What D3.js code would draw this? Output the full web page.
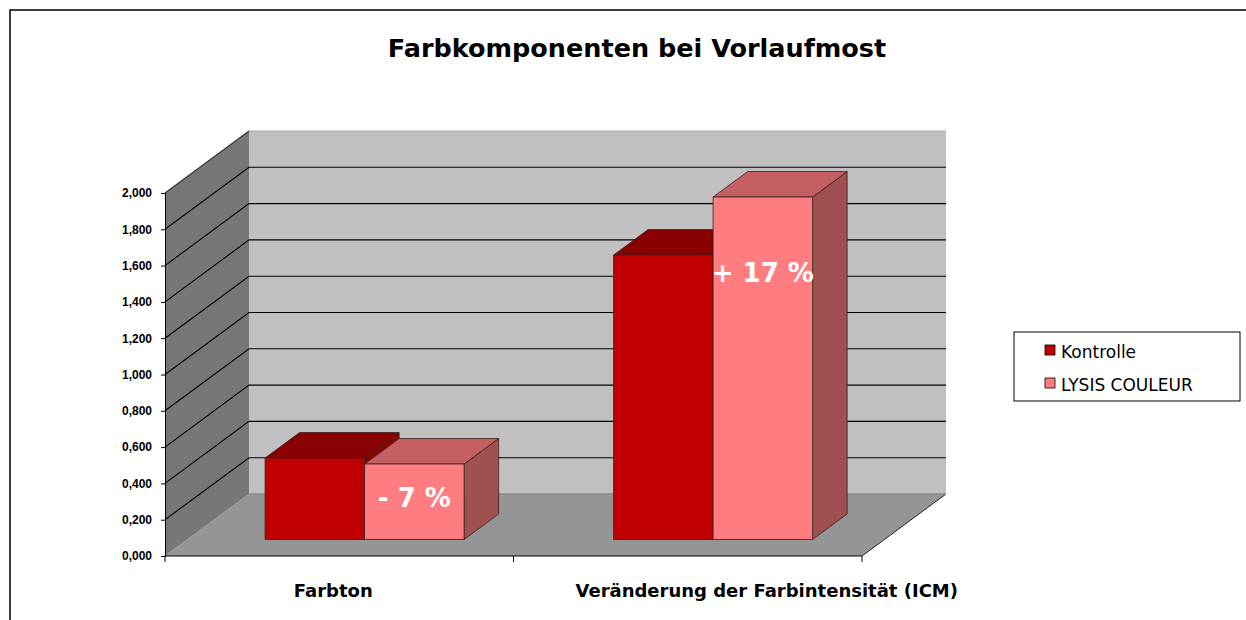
<!DOCTYPE html>
<html>
<head>
<meta charset="utf-8">
<script src="https://cdn.jsdelivr.net/npm/d3@7"></script>
<style>
  body { margin: 0; background: #fff; }
  svg { display: block; font-family: "DejaVu Sans", sans-serif; }
</style>
</head>
<body>
<svg id="chart" width="1246" height="620"></svg>
<script>
// values
var categories = ["Farbton", "Veränderung der Farbintensität (ICM)"];
var series = ["Kontrolle", "LYSIS COULEUR"];
var kontrolle = [0.449, 1.567];
var lysis = [0.416, 1.887];
var changeLabels = ["- 7 %", "+ 17 %"];
var changeAnchor = [0.18, 1.42];

var svg = d3.select('#chart');

var DX = 84, DY = 62;           // depth of the 3d box
var d0 = 0.266, d1 = 0.677;     // bar front / back depth

var y = d3.scaleLinear().domain([0, 2]).range([556, 193]);
var x = d3.scaleBand().domain(categories).range([165, 862]);
var xs = d3.scaleBand().domain(series).range([3, x.bandwidth() + 3]).paddingOuter(0.751);

var proj = function(px, v, d) {
    return [px + d * DX, y(v) - d * DY];
};
var poly = function(pts) {
    return pts.map(function(p) { return p.join(','); }).join(' ');
};

var loc = d3.formatLocale({decimal: ',', thousands: '.', grouping: [3], currency: ['', '']});
var fmt = loc.format('.3f');

// frame
svg.append('rect')
    .attr('x', 10).attr('y', 10)
    .attr('width', 1260).attr('height', 640)
    .attr('fill', 'none').attr('stroke', '#000').attr('stroke-width', 1.5);

svg.append('text')
    .attr('x', 637).attr('y', 57)
    .attr('text-anchor', 'middle')
    .style('font-size', '25.5px').style('font-weight', 'bold')
    .text('Farbkomponenten bei Vorlaufmost');

var xL = x.range()[0], xR = x.range()[1];

// walls and floor
svg.append('polygon')
    .attr('points', poly([proj(xL, 0, 1), proj(xR, 0, 1), proj(xR, 2, 1), proj(xL, 2, 1)]))
    .attr('fill', '#c0c0c0');
svg.append('polygon')
    .attr('points', poly([proj(xL, 0, 0), proj(xL, 2, 0), proj(xL, 2, 1), proj(xL, 0, 1)]))
    .attr('fill', '#777777');
svg.append('polygon')
    .attr('points', poly([proj(xL, 0, 0), proj(xR, 0, 0), proj(xR, 0, 1), proj(xL, 0, 1)]))
    .attr('fill', '#959595');
svg.append('line')
    .attr('x1', proj(xR, 0, 0)[0]).attr('y1', proj(xR, 0, 0)[1])
    .attr('x2', proj(xR, 0, 1)[0]).attr('y2', proj(xR, 0, 1)[1])
    .attr('stroke', '#222');

var ticks = y.ticks(10);

// gridlines on side and back wall
var grid = svg.append('g');
ticks.forEach(function(t) {
    if (t === 0) return;
    var top = t === 2;
    var a = proj(xL, t, 0), b = proj(xL, t, 1), c = proj(xR, t, 1);
    grid.append('polyline')
        .attr('points', poly(top ? [a, b] : [a, b, c]))
        .attr('fill', 'none')
        .attr('stroke', top ? '#333' : '#000')
        .attr('stroke-width', 1.1);
    if (top) {
        grid.append('line')
            .attr('x1', b[0]).attr('y1', b[1]).attr('x2', c[0]).attr('y2', c[1])
            .attr('stroke', '#aaa');
    }
});
// back wall edge along floor
svg.append('line')
    .attr('x1', proj(xL, 0, 1)[0]).attr('y1', proj(xL, 0, 1)[1])
    .attr('x2', proj(xR, 0, 1)[0]).attr('y2', proj(xR, 0, 1)[1])
    .attr('stroke', '#888').attr('stroke-width', 1.5);

// bars
var colors = {
    'Kontrolle': {front: '#c00000', top: '#880000', side: '#8c0000'},
    'LYSIS COULEUR': {front: '#ff7c80', top: '#c46064', side: '#a05050'}
};

var bars = [];
categories.forEach(function(c, i) {
    bars.push({cat: c, s: series[0], v: kontrolle[i]});
    bars.push({cat: c, s: series[1], v: lysis[i]});
});

var barG = svg.append('g');
bars.forEach(function(b) {
    var xa = x(b.cat) + xs(b.s), xb = xa + xs.bandwidth();
    var col = colors[b.s];
    var g = barG.append('g').attr('stroke', '#3a2020').attr('stroke-width', 0.8).attr('stroke-linejoin', 'round');
    g.append('polygon')
        .attr('points', poly([proj(xb, 0, d0), proj(xb, b.v, d0), proj(xb, b.v, d1), proj(xb, 0, d1)]))
        .attr('fill', col.side);
    g.append('polygon')
        .attr('points', poly([proj(xa, b.v, d0), proj(xb, b.v, d0), proj(xb, b.v, d1), proj(xa, b.v, d1)]))
        .attr('fill', col.top);
    g.append('polygon')
        .attr('points', poly([proj(xa, 0, d0), proj(xb, 0, d0), proj(xb, b.v, d0), proj(xa, b.v, d0)]))
        .attr('fill', col.front);
});

// change labels on LYSIS bars
categories.forEach(function(c, i) {
    var xa = x(c) + xs(series[1]);
    var p = proj(xa + xs.bandwidth() / 2, changeAnchor[i], d0);
    svg.append('text')
        .attr('x', p[0]).attr('y', p[1])
        .attr('text-anchor', 'middle')
        .attr('fill', '#fff')
        .style('font-size', '26px').style('font-weight', 'bold')
        .text(changeLabels[i]);
});

// y axis
var yAxis = svg.append('g')
    .attr('transform', 'translate(' + xL + ',0)')
    .call(d3.axisLeft(y).ticks(10).tickSize(4).tickPadding(9).tickFormat(fmt));
yAxis.selectAll('text').style('font-size', '12px').style('font-weight', 'bold').attr('fill', '#000');
yAxis.select('.domain').attr('stroke', '#000');

// x axis
var xAxis = svg.append('g')
    .attr('transform', 'translate(0,' + y(0) + ')');
xAxis.append('line')
    .attr('x1', xL).attr('x2', xR).attr('stroke', '#000');
xAxis.selectAll('.tick')
    .data(categories.concat([null]))
    .enter().append('line')
    .attr('x1', function(d) { return d ? x(d) : xR; })
    .attr('x2', function(d) { return d ? x(d) : xR; })
    .attr('y1', 0).attr('y2', 6)
    .attr('stroke', '#000');
var labelShift = [-6, 79];
xAxis.selectAll('.cat')
    .data(categories)
    .enter().append('text')
    .attr('x', function(d, i) { return x(d) + x.bandwidth() / 2 + labelShift[i]; })
    .attr('y', 41)
    .attr('text-anchor', 'middle')
    .style('font-size', '18px').style('font-weight', 'bold')
    .text(function(d) { return d; });

// legend
var leg = svg.append('g').attr('transform', 'translate(1014,332)');
leg.append('rect')
    .attr('width', 226).attr('height', 69)
    .attr('fill', '#fff').attr('stroke', '#000');
series.forEach(function(s, i) {
    leg.append('rect')
        .attr('x', 31).attr('y', 13 + i * 33)
        .attr('width', 10).attr('height', 10)
        .attr('fill', colors[s].front).attr('stroke', '#000').attr('stroke-width', 0.8);
    leg.append('text')
        .attr('x', 47).attr('y', 26 + i * 33)
        .style('font-size', '17px')
        .text(s);
});
</script>
</body>
</html>
